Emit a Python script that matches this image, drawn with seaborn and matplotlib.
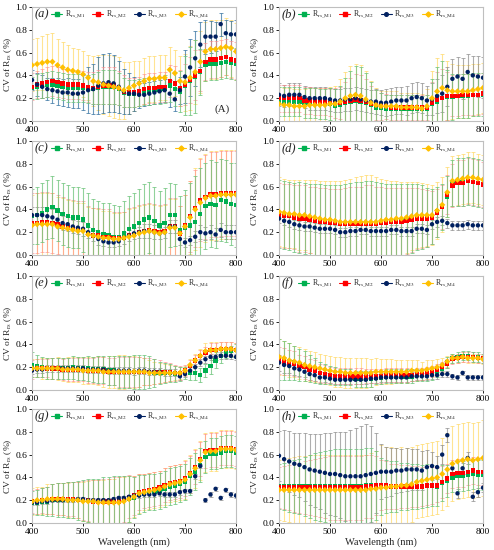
import numpy as np
import pandas as pd
import matplotlib
matplotlib.use("Agg")
import matplotlib.pyplot as plt
from matplotlib.lines import Line2D
import seaborn as sns

wavelength = list(range(400, 801, 10))
series_names = ["M1", "M2", "M3", "M4"]
panel_letters = ["(a)", "(b)", "(c)", "(d)", "(e)", "(f)", "(g)", "(h)"]

# ---------------- panel (a) ----------------
a_m1 = [0.29,0.30,0.31,0.32,0.32,0.31,0.30,0.29,0.29,0.29,0.29,0.28,0.28,0.29,0.30,0.30,0.30,0.28,0.25,0.24,0.24,0.25,0.26,0.26,0.27,0.27,0.28,0.31,0.28,0.26,0.31,0.35,0.39,0.43,0.49,0.50,0.50,0.51,0.52,0.51,0.50]
a_m2 = [0.30,0.32,0.33,0.34,0.35,0.34,0.33,0.32,0.32,0.32,0.31,0.30,0.29,0.30,0.31,0.31,0.31,0.29,0.26,0.25,0.25,0.26,0.28,0.29,0.29,0.30,0.30,0.35,0.33,0.29,0.32,0.36,0.40,0.44,0.52,0.54,0.54,0.55,0.56,0.54,0.53]
a_m3 = [0.36,0.32,0.30,0.28,0.27,0.26,0.25,0.25,0.24,0.24,0.25,0.27,0.28,0.31,0.33,0.34,0.33,0.30,0.26,0.24,0.24,0.23,0.23,0.24,0.25,0.26,0.27,0.24,0.19,0.27,0.39,0.47,0.55,0.67,0.74,0.74,0.74,0.85,0.77,0.76,0.76]
a_m4 = [0.49,0.50,0.51,0.52,0.52,0.49,0.47,0.45,0.44,0.43,0.41,0.38,0.35,0.34,0.32,0.31,0.30,0.29,0.27,0.29,0.31,0.33,0.35,0.37,0.37,0.38,0.38,0.45,0.42,0.35,0.34,0.38,0.43,0.52,0.61,0.63,0.63,0.64,0.65,0.64,0.61]
a_m1_sd = [0.10,0.11,0.11,0.11,0.12,0.12,0.12,0.12,0.12,0.12,0.12,0.12,0.13,0.14,0.15,0.15,0.15,0.14,0.13,0.12,0.12,0.12,0.12,0.12,0.12,0.12,0.12,0.14,0.15,0.18,0.26,0.30,0.32,0.20,0.14,0.14,0.14,0.14,0.14,0.14,0.14]
a_m2_sd = [0.12,0.12,0.13,0.13,0.13,0.13,0.13,0.13,0.13,0.13,0.13,0.13,0.14,0.15,0.16,0.16,0.16,0.15,0.14,0.13,0.13,0.13,0.13,0.13,0.13,0.13,0.13,0.14,0.15,0.16,0.18,0.20,0.22,0.18,0.16,0.16,0.16,0.16,0.16,0.16,0.16]
a_m3_sd = [0.09,0.10,0.10,0.10,0.11,0.12,0.12,0.13,0.13,0.13,0.15,0.20,0.22,0.25,0.26,0.26,0.25,0.23,0.20,0.18,0.15,0.12,0.10,0.10,0.10,0.10,0.10,0.12,0.10,0.12,0.23,0.25,0.24,0.20,0.15,0.14,0.13,0.10,0.12,0.12,0.13]
a_m4_sd = [0.23,0.23,0.24,0.24,0.25,0.23,0.22,0.22,0.20,0.20,0.20,0.20,0.22,0.24,0.26,0.27,0.27,0.27,0.25,0.23,0.22,0.20,0.20,0.20,0.20,0.20,0.20,0.20,0.20,0.22,0.25,0.28,0.28,0.27,0.26,0.26,0.26,0.25,0.25,0.25,0.25]

# ---------------- panel (b) ----------------
b_m1 = [0.17,0.17,0.17,0.17,0.17,0.16,0.16,0.16,0.15,0.15,0.15,0.13,0.14,0.16,0.17,0.18,0.17,0.16,0.14,0.12,0.12,0.11,0.11,0.11,0.11,0.11,0.11,0.11,0.11,0.11,0.15,0.17,0.20,0.21,0.21,0.22,0.22,0.22,0.23,0.23,0.23]
b_m2 = [0.20,0.20,0.20,0.20,0.20,0.18,0.18,0.17,0.17,0.17,0.16,0.16,0.16,0.17,0.18,0.19,0.18,0.17,0.15,0.14,0.13,0.13,0.12,0.12,0.12,0.12,0.12,0.12,0.12,0.12,0.16,0.19,0.20,0.22,0.22,0.22,0.23,0.23,0.23,0.23,0.24]
b_m3 = [0.23,0.22,0.23,0.23,0.23,0.21,0.20,0.20,0.20,0.20,0.19,0.18,0.18,0.19,0.19,0.20,0.19,0.18,0.17,0.17,0.16,0.16,0.17,0.18,0.18,0.18,0.20,0.21,0.20,0.18,0.19,0.22,0.24,0.30,0.37,0.39,0.37,0.43,0.40,0.39,0.38]
b_m4 = [0.15,0.14,0.14,0.13,0.13,0.13,0.14,0.14,0.14,0.14,0.15,0.15,0.17,0.20,0.22,0.23,0.22,0.19,0.16,0.14,0.13,0.13,0.13,0.13,0.12,0.12,0.12,0.12,0.11,0.13,0.20,0.26,0.29,0.27,0.26,0.26,0.26,0.26,0.27,0.28,0.29]
b_m1_sd = [0.13,0.13,0.13,0.13,0.13,0.13,0.13,0.13,0.13,0.13,0.14,0.15,0.17,0.22,0.27,0.30,0.30,0.26,0.20,0.15,0.13,0.12,0.12,0.12,0.12,0.12,0.12,0.12,0.11,0.12,0.22,0.30,0.33,0.24,0.20,0.19,0.19,0.19,0.19,0.19,0.19]
b_m2_sd = [0.12,0.12,0.12,0.12,0.12,0.12,0.12,0.12,0.12,0.12,0.12,0.13,0.14,0.17,0.20,0.22,0.22,0.20,0.16,0.13,0.12,0.11,0.11,0.11,0.11,0.11,0.11,0.11,0.11,0.11,0.18,0.24,0.26,0.21,0.18,0.18,0.18,0.18,0.18,0.18,0.18]
b_m3_sd = [0.10,0.10,0.10,0.10,0.10,0.10,0.10,0.10,0.10,0.10,0.10,0.10,0.10,0.10,0.10,0.10,0.10,0.10,0.10,0.11,0.11,0.12,0.12,0.12,0.12,0.13,0.13,0.13,0.13,0.13,0.14,0.15,0.16,0.17,0.17,0.17,0.18,0.16,0.17,0.18,0.18]
b_m4_sd = [0.15,0.15,0.15,0.15,0.15,0.15,0.15,0.15,0.15,0.15,0.15,0.16,0.20,0.23,0.26,0.27,0.27,0.25,0.19,0.15,0.13,0.13,0.13,0.13,0.13,0.13,0.13,0.13,0.13,0.15,0.24,0.29,0.30,0.26,0.24,0.23,0.23,0.23,0.23,0.22,0.22]

# ---------------- panel (c) ----------------
c_m1 = [0.34,0.35,0.37,0.40,0.42,0.39,0.36,0.34,0.33,0.33,0.31,0.26,0.22,0.20,0.18,0.17,0.16,0.16,0.19,0.23,0.25,0.28,0.31,0.33,0.30,0.26,0.28,0.35,0.35,0.22,0.24,0.26,0.29,0.36,0.43,0.45,0.44,0.48,0.47,0.45,0.44]
c_m2 = [0.28,0.28,0.29,0.29,0.28,0.27,0.25,0.24,0.23,0.22,0.22,0.19,0.17,0.17,0.16,0.16,0.15,0.15,0.15,0.17,0.18,0.20,0.21,0.22,0.21,0.20,0.21,0.25,0.25,0.19,0.26,0.34,0.41,0.48,0.51,0.53,0.53,0.54,0.54,0.54,0.54]
c_m3 = [0.35,0.35,0.35,0.34,0.33,0.31,0.28,0.27,0.25,0.24,0.23,0.20,0.17,0.14,0.12,0.11,0.11,0.12,0.15,0.17,0.19,0.20,0.21,0.21,0.20,0.19,0.20,0.25,0.25,0.14,0.11,0.13,0.16,0.20,0.19,0.20,0.18,0.22,0.20,0.20,0.20]
c_m4 = [0.26,0.27,0.27,0.27,0.27,0.25,0.24,0.23,0.22,0.21,0.21,0.18,0.17,0.16,0.15,0.15,0.14,0.14,0.15,0.16,0.17,0.19,0.20,0.21,0.20,0.19,0.20,0.24,0.24,0.19,0.25,0.33,0.40,0.46,0.50,0.52,0.52,0.53,0.53,0.53,0.53]
c_m1_sd = [0.24,0.25,0.26,0.26,0.27,0.27,0.27,0.27,0.27,0.27,0.28,0.28,0.27,0.27,0.28,0.29,0.28,0.27,0.28,0.29,0.29,0.30,0.31,0.31,0.30,0.30,0.31,0.28,0.27,0.30,0.33,0.37,0.40,0.40,0.38,0.38,0.38,0.36,0.36,0.36,0.37]
c_m2_sd = [0.26,0.26,0.26,0.26,0.26,0.26,0.26,0.25,0.25,0.25,0.25,0.24,0.24,0.24,0.24,0.24,0.23,0.23,0.23,0.24,0.24,0.24,0.24,0.24,0.24,0.24,0.24,0.25,0.25,0.24,0.27,0.31,0.34,0.36,0.37,0.37,0.37,0.37,0.37,0.37,0.37]
c_m3_sd = [0.07,0.07,0.07,0.07,0.07,0.07,0.06,0.06,0.06,0.06,0.06,0.05,0.05,0.05,0.04,0.04,0.04,0.04,0.05,0.05,0.05,0.05,0.06,0.06,0.06,0.05,0.05,0.06,0.06,0.05,0.04,0.04,0.05,0.06,0.06,0.06,0.06,0.06,0.06,0.06,0.06]
c_m4_sd = [0.27,0.27,0.27,0.27,0.27,0.26,0.26,0.25,0.25,0.25,0.25,0.24,0.24,0.24,0.24,0.24,0.23,0.23,0.23,0.24,0.24,0.24,0.24,0.24,0.24,0.24,0.24,0.25,0.25,0.24,0.28,0.32,0.36,0.39,0.39,0.39,0.39,0.39,0.39,0.39,0.39]

# ---------------- panel (d) ----------------
d_m1 = [0.36,0.35,0.34,0.33,0.33,0.32,0.31,0.30,0.30,0.29,0.29,0.29,0.28,0.28,0.28,0.28,0.28,0.28,0.28,0.28,0.29,0.29,0.30,0.30,0.30,0.31,0.32,0.33,0.33,0.33,0.34,0.38,0.42,0.51,0.63,0.64,0.64,0.65,0.64,0.63,0.62]
d_m2 = [0.35,0.34,0.34,0.33,0.32,0.32,0.31,0.30,0.29,0.29,0.28,0.28,0.27,0.27,0.27,0.27,0.27,0.27,0.27,0.27,0.28,0.28,0.29,0.29,0.29,0.30,0.31,0.32,0.32,0.32,0.33,0.37,0.42,0.53,0.61,0.63,0.63,0.65,0.64,0.63,0.62]
d_m3 = [0.32,0.30,0.29,0.27,0.26,0.25,0.25,0.24,0.23,0.23,0.23,0.22,0.20,0.20,0.21,0.21,0.22,0.22,0.21,0.21,0.21,0.21,0.22,0.22,0.21,0.21,0.21,0.23,0.23,0.22,0.27,0.29,0.30,0.28,0.26,0.26,0.26,0.27,0.26,0.26,0.26]
d_m4 = [0.38,0.37,0.36,0.36,0.35,0.35,0.34,0.33,0.32,0.31,0.31,0.30,0.29,0.29,0.29,0.29,0.29,0.29,0.29,0.29,0.30,0.31,0.31,0.32,0.32,0.33,0.34,0.35,0.35,0.35,0.35,0.39,0.44,0.55,0.65,0.66,0.67,0.68,0.68,0.67,0.66]
d_m1_sd = [0.30,0.30,0.30,0.30,0.31,0.31,0.31,0.32,0.32,0.32,0.32,0.32,0.33,0.34,0.35,0.36,0.36,0.37,0.37,0.36,0.34,0.33,0.32,0.32,0.32,0.31,0.30,0.29,0.28,0.26,0.24,0.22,0.20,0.18,0.20,0.21,0.21,0.21,0.21,0.21,0.21]
d_m2_sd = [0.28,0.28,0.28,0.28,0.29,0.29,0.29,0.30,0.30,0.30,0.30,0.30,0.31,0.32,0.33,0.33,0.33,0.34,0.34,0.33,0.32,0.31,0.30,0.30,0.30,0.29,0.28,0.27,0.26,0.25,0.23,0.21,0.19,0.17,0.19,0.20,0.20,0.20,0.20,0.20,0.20]
d_m3_sd = [0.04,0.04,0.04,0.04,0.04,0.04,0.04,0.04,0.04,0.04,0.04,0.04,0.04,0.04,0.04,0.04,0.04,0.04,0.04,0.04,0.04,0.04,0.04,0.04,0.04,0.04,0.04,0.04,0.04,0.04,0.04,0.04,0.04,0.04,0.04,0.04,0.04,0.04,0.04,0.04,0.04]
d_m4_sd = [0.30,0.30,0.30,0.30,0.31,0.31,0.32,0.33,0.33,0.34,0.34,0.35,0.36,0.37,0.38,0.39,0.40,0.41,0.41,0.39,0.37,0.35,0.34,0.33,0.32,0.31,0.30,0.29,0.28,0.27,0.26,0.25,0.24,0.22,0.22,0.22,0.22,0.22,0.22,0.22,0.22]

# ---------------- panel (e) ----------------
e_m1 = [0.22,0.21,0.20,0.19,0.19,0.19,0.19,0.19,0.20,0.19,0.19,0.19,0.18,0.18,0.18,0.17,0.17,0.16,0.16,0.16,0.16,0.16,0.16,0.16,0.15,0.15,0.15,0.15,0.14,0.14,0.15,0.15,0.15,0.13,0.17,0.21,0.26,0.30,0.33,0.34,0.35]
e_m2 = [0.18,0.19,0.19,0.19,0.19,0.19,0.18,0.18,0.18,0.18,0.18,0.17,0.17,0.17,0.17,0.16,0.16,0.16,0.16,0.16,0.16,0.16,0.16,0.16,0.16,0.16,0.16,0.16,0.15,0.15,0.17,0.21,0.26,0.30,0.33,0.35,0.35,0.36,0.36,0.36,0.35]
e_m3 = [0.17,0.18,0.18,0.19,0.19,0.19,0.19,0.19,0.19,0.19,0.19,0.18,0.18,0.18,0.18,0.17,0.17,0.17,0.17,0.17,0.16,0.17,0.17,0.16,0.16,0.16,0.15,0.15,0.15,0.12,0.14,0.17,0.20,0.24,0.27,0.29,0.29,0.30,0.30,0.30,0.29]
e_m4 = [0.19,0.19,0.19,0.19,0.19,0.19,0.18,0.18,0.18,0.18,0.17,0.17,0.17,0.17,0.16,0.16,0.16,0.16,0.16,0.16,0.16,0.16,0.16,0.15,0.15,0.15,0.15,0.15,0.15,0.15,0.17,0.22,0.26,0.30,0.34,0.35,0.35,0.36,0.36,0.36,0.35]
e_m1_sd = [0.11,0.10,0.09,0.09,0.09,0.09,0.09,0.09,0.10,0.10,0.10,0.11,0.11,0.12,0.12,0.13,0.13,0.14,0.14,0.14,0.15,0.15,0.15,0.14,0.12,0.10,0.09,0.08,0.07,0.06,0.05,0.06,0.06,0.06,0.06,0.07,0.07,0.06,0.05,0.05,0.05]
e_m2_sd = [0.08,0.08,0.08,0.08,0.09,0.09,0.09,0.10,0.10,0.10,0.10,0.11,0.11,0.12,0.12,0.12,0.12,0.13,0.13,0.13,0.13,0.13,0.12,0.12,0.11,0.10,0.09,0.08,0.07,0.06,0.05,0.05,0.05,0.05,0.05,0.06,0.06,0.06,0.06,0.06,0.06]
e_m3_sd = [0.03,0.03,0.03,0.03,0.03,0.03,0.03,0.03,0.03,0.03,0.03,0.03,0.03,0.03,0.03,0.03,0.03,0.03,0.03,0.03,0.03,0.03,0.03,0.03,0.03,0.03,0.03,0.03,0.03,0.03,0.03,0.03,0.03,0.03,0.03,0.03,0.03,0.03,0.03,0.03,0.03]
e_m4_sd = [0.08,0.08,0.09,0.09,0.09,0.10,0.10,0.11,0.11,0.11,0.12,0.12,0.12,0.13,0.13,0.14,0.14,0.15,0.15,0.14,0.14,0.13,0.12,0.11,0.10,0.09,0.08,0.07,0.06,0.05,0.04,0.05,0.06,0.06,0.07,0.07,0.07,0.06,0.06,0.06,0.06]

# ---------------- panel (f) ----------------
f_m1 = [0.27,0.26,0.25,0.24,0.22,0.21,0.19,0.17,0.15,0.14,0.13,0.12,0.11,0.11,0.11,0.10,0.10,0.10,0.10,0.11,0.11,0.12,0.12,0.12,0.12,0.12,0.12,0.13,0.13,0.13,0.14,0.16,0.19,0.24,0.28,0.29,0.30,0.30,0.29,0.29,0.28]
f_m2 = [0.26,0.25,0.24,0.23,0.21,0.20,0.18,0.17,0.15,0.14,0.13,0.12,0.12,0.12,0.12,0.12,0.12,0.12,0.12,0.12,0.12,0.13,0.13,0.13,0.13,0.13,0.13,0.14,0.14,0.15,0.16,0.18,0.20,0.23,0.27,0.28,0.29,0.29,0.29,0.28,0.28]
f_m3 = [0.24,0.22,0.21,0.19,0.18,0.16,0.14,0.13,0.11,0.11,0.10,0.09,0.09,0.09,0.09,0.09,0.09,0.09,0.10,0.10,0.11,0.11,0.11,0.11,0.11,0.11,0.12,0.12,0.12,0.12,0.13,0.13,0.14,0.14,0.12,0.11,0.15,0.11,0.11,0.11,0.11]
f_m4 = [0.29,0.28,0.26,0.25,0.24,0.22,0.21,0.20,0.19,0.18,0.17,0.16,0.16,0.15,0.15,0.15,0.15,0.15,0.15,0.16,0.16,0.16,0.16,0.16,0.16,0.16,0.17,0.17,0.17,0.18,0.19,0.20,0.22,0.25,0.28,0.28,0.29,0.28,0.28,0.28,0.27]
f_m1_sd = [0.18,0.17,0.16,0.15,0.14,0.13,0.12,0.11,0.10,0.09,0.08,0.08,0.07,0.07,0.07,0.07,0.07,0.07,0.07,0.06,0.06,0.06,0.06,0.06,0.06,0.06,0.06,0.05,0.05,0.05,0.05,0.05,0.05,0.05,0.04,0.04,0.04,0.04,0.04,0.04,0.04]
f_m2_sd = [0.12,0.12,0.11,0.11,0.10,0.10,0.09,0.09,0.08,0.08,0.07,0.07,0.07,0.07,0.07,0.07,0.07,0.06,0.06,0.06,0.06,0.06,0.06,0.06,0.06,0.06,0.05,0.05,0.05,0.05,0.05,0.05,0.05,0.04,0.04,0.04,0.04,0.04,0.04,0.04,0.04]
f_m3_sd = [0.07,0.07,0.06,0.06,0.06,0.05,0.05,0.05,0.05,0.04,0.04,0.04,0.04,0.04,0.04,0.04,0.04,0.04,0.04,0.04,0.04,0.04,0.04,0.04,0.04,0.04,0.04,0.03,0.03,0.03,0.03,0.03,0.03,0.03,0.02,0.02,0.02,0.02,0.02,0.02,0.02]
f_m4_sd = [0.16,0.15,0.15,0.14,0.14,0.14,0.13,0.13,0.13,0.13,0.13,0.13,0.13,0.13,0.13,0.13,0.13,0.13,0.12,0.12,0.11,0.11,0.11,0.10,0.10,0.10,0.09,0.09,0.08,0.08,0.07,0.07,0.06,0.05,0.04,0.04,0.04,0.04,0.04,0.04,0.04]

# ---------------- panel (g) ----------------
g_m1 = [0.18,0.18,0.19,0.19,0.20,0.20,0.20,0.20,0.20,0.20,0.20,0.20,0.19,0.19,0.19,0.19,0.19,0.19,0.20,0.21,0.22,0.25,0.26,0.27,0.27,0.28,0.30,0.32,0.33,0.34,0.36,0.41,0.45,0.51,0.58,0.61,0.61,0.62,0.63,0.63,0.62]
g_m2 = [0.19,0.19,0.20,0.20,0.21,0.21,0.21,0.21,0.21,0.20,0.20,0.20,0.19,0.19,0.19,0.19,0.19,0.19,0.21,0.23,0.24,0.27,0.28,0.29,0.30,0.31,0.33,0.35,0.36,0.37,0.39,0.44,0.49,0.56,0.63,0.64,0.64,0.66,0.66,0.66,0.65]
g_m3 = [0.18,0.18,0.19,0.19,0.20,0.20,0.20,0.20,0.20,0.21,0.21,0.20,0.20,0.20,0.20,0.20,0.21,0.22,0.22,0.23,0.24,0.24,0.25,0.25,0.25,0.26,0.25,0.25,0.25,0.27,0.28,0.28,0.41,0.50,0.20,0.25,0.30,0.22,0.29,0.25,0.24]
g_m4 = [0.19,0.20,0.20,0.21,0.21,0.21,0.21,0.20,0.20,0.20,0.19,0.19,0.19,0.18,0.18,0.18,0.18,0.18,0.19,0.21,0.23,0.26,0.27,0.28,0.29,0.30,0.32,0.34,0.35,0.36,0.38,0.43,0.48,0.55,0.62,0.63,0.63,0.65,0.65,0.65,0.64]
g_m1_sd = [0.10,0.11,0.12,0.13,0.14,0.15,0.15,0.16,0.16,0.17,0.18,0.19,0.20,0.20,0.21,0.21,0.22,0.22,0.21,0.20,0.18,0.17,0.16,0.16,0.16,0.16,0.16,0.16,0.16,0.16,0.16,0.16,0.16,0.15,0.14,0.14,0.14,0.14,0.14,0.14,0.14]
g_m2_sd = [0.10,0.11,0.11,0.12,0.13,0.14,0.14,0.15,0.15,0.16,0.17,0.18,0.19,0.19,0.20,0.20,0.21,0.21,0.20,0.19,0.17,0.16,0.15,0.15,0.15,0.15,0.15,0.15,0.15,0.15,0.15,0.15,0.15,0.15,0.15,0.15,0.15,0.15,0.15,0.15,0.15]
g_m3_sd = [0.02,0.02,0.02,0.02,0.02,0.02,0.02,0.02,0.02,0.02,0.02,0.02,0.02,0.02,0.02,0.02,0.02,0.02,0.02,0.02,0.02,0.02,0.02,0.02,0.02,0.02,0.02,0.02,0.02,0.02,0.02,0.02,0.02,0.02,0.02,0.02,0.02,0.02,0.02,0.02,0.02]
g_m4_sd = [0.12,0.12,0.12,0.13,0.13,0.14,0.14,0.15,0.16,0.16,0.17,0.18,0.19,0.20,0.20,0.21,0.21,0.22,0.21,0.20,0.18,0.17,0.16,0.16,0.16,0.16,0.16,0.16,0.16,0.16,0.17,0.17,0.17,0.17,0.17,0.17,0.17,0.17,0.17,0.17,0.17]

# ---------------- panel (h) ----------------
h_m1 = [0.32,0.32,0.32,0.32,0.32,0.32,0.32,0.32,0.32,0.32,0.32,0.32,0.32,0.32,0.32,0.32,0.32,0.33,0.33,0.33,0.32,0.32,0.32,0.32,0.32,0.32,0.32,0.32,0.32,0.33,0.33,0.32,0.35,0.37,0.40,0.41,0.41,0.42,0.43,0.42,0.42]
h_m2 = [0.31,0.31,0.31,0.31,0.31,0.31,0.31,0.31,0.31,0.31,0.31,0.31,0.31,0.31,0.31,0.31,0.31,0.32,0.32,0.33,0.33,0.33,0.32,0.32,0.32,0.32,0.32,0.32,0.32,0.33,0.33,0.33,0.36,0.39,0.43,0.44,0.44,0.45,0.46,0.45,0.45]
h_m3 = [0.59,0.56,0.54,0.52,0.51,0.49,0.47,0.46,0.45,0.44,0.43,0.43,0.42,0.41,0.41,0.41,0.41,0.42,0.43,0.44,0.45,0.45,0.45,0.46,0.46,0.47,0.47,0.47,0.46,0.49,0.50,0.49,0.60,0.77,0.48,0.26,0.48,0.57,0.23,0.27,0.31]
h_m4 = [0.29,0.29,0.29,0.29,0.29,0.29,0.29,0.29,0.29,0.29,0.29,0.29,0.29,0.29,0.29,0.29,0.29,0.29,0.30,0.30,0.31,0.31,0.32,0.32,0.33,0.33,0.34,0.36,0.37,0.38,0.39,0.40,0.43,0.47,0.52,0.54,0.55,0.56,0.55,0.56,0.57]
h_m1_sd = [0.20,0.21,0.22,0.23,0.24,0.26,0.28,0.29,0.30,0.31,0.32,0.33,0.33,0.33,0.33,0.33,0.33,0.33,0.33,0.30,0.25,0.23,0.22,0.22,0.21,0.21,0.20,0.20,0.19,0.19,0.18,0.17,0.16,0.14,0.13,0.13,0.13,0.13,0.13,0.13,0.13]
h_m2_sd = [0.18,0.19,0.20,0.21,0.22,0.23,0.24,0.25,0.26,0.27,0.28,0.28,0.28,0.28,0.28,0.28,0.28,0.28,0.28,0.26,0.22,0.21,0.20,0.20,0.19,0.19,0.18,0.18,0.17,0.17,0.16,0.15,0.14,0.13,0.12,0.12,0.12,0.12,0.12,0.12,0.12]
h_m3_sd = [0.22,0.26,0.27,0.27,0.28,0.30,0.31,0.32,0.33,0.35,0.36,0.37,0.38,0.39,0.41,0.42,0.44,0.45,0.42,0.35,0.24,0.22,0.21,0.20,0.19,0.19,0.18,0.18,0.17,0.15,0.12,0.10,0.08,0.06,0.05,0.04,0.05,0.05,0.04,0.04,0.04]
h_m4_sd = [0.26,0.27,0.28,0.29,0.30,0.30,0.31,0.31,0.31,0.31,0.31,0.31,0.31,0.31,0.31,0.31,0.31,0.31,0.31,0.33,0.37,0.36,0.35,0.34,0.34,0.33,0.33,0.32,0.32,0.32,0.32,0.32,0.32,0.32,0.33,0.33,0.33,0.33,0.33,0.33,0.33]

# ---------------- styling ----------------
sns.set_theme(style="ticks")
plt.rcParams["font.family"] = ["Liberation Serif", "DejaVu Serif"]
plt.rcParams["mathtext.fontset"] = "stix"

marker_colors = {"M1": "#00b050", "M2": "#ff0000", "M3": "#002060", "M4": "#ffc000"}
marker_shapes = {"M1": "s", "M2": "s", "M3": "o", "M4": "D"}
err_colors = {"M1": "#6cc47a", "M2": "#ff8a8a", "M3": "#8c8c8c", "M4": "#ffd966"}
err_alpha = {"M1": 0.75, "M2": 0.6, "M3": 0.7, "M4": 0.7}
labels = {s: r"R$_{\mathrm{rs\_" + s + r"}}$" for s in series_names}

panel_means = [
    (a_m1, a_m2, a_m3, a_m4), (b_m1, b_m2, b_m3, b_m4),
    (c_m1, c_m2, c_m3, c_m4), (d_m1, d_m2, d_m3, d_m4),
    (e_m1, e_m2, e_m3, e_m4), (f_m1, f_m2, f_m3, f_m4),
    (g_m1, g_m2, g_m3, g_m4), (h_m1, h_m2, h_m3, h_m4),
]
panel_sds = [
    (a_m1_sd, a_m2_sd, a_m3_sd, a_m4_sd), (b_m1_sd, b_m2_sd, b_m3_sd, b_m4_sd),
    (c_m1_sd, c_m2_sd, c_m3_sd, c_m4_sd), (d_m1_sd, d_m2_sd, d_m3_sd, d_m4_sd),
    (e_m1_sd, e_m2_sd, e_m3_sd, e_m4_sd), (f_m1_sd, f_m2_sd, f_m3_sd, f_m4_sd),
    (g_m1_sd, g_m2_sd, g_m3_sd, g_m4_sd), (h_m1_sd, h_m2_sd, h_m3_sd, h_m4_sd),
]

W, H = 494, 550
fig = plt.figure(figsize=(W / 100, H / 100), dpi=100)
col_left = [32, 279]
ax_w = 204
row_top = [7, 141, 276, 409]
ax_h = 114

for p in range(8):
    r, c = divmod(p, 2)
    left = col_left[c] / W
    bottom = 1 - (row_top[r] + ax_h) / H
    ax = fig.add_axes([left, bottom, ax_w / W, ax_h / H])

    rows = []
    for s, m, sd in zip(series_names, panel_means[p], panel_sds[p]):
        for wl, mv, sv in zip(wavelength, m, sd):
            rows.append({"wavelength": wl, "cv": mv, "sd": sv, "series": s})
    df = pd.DataFrame(rows)

    # error bars: M4 first, M1 last
    for s in ["M4", "M3", "M2", "M1"]:
        sub = df[df["series"] == s]
        ecol = err_colors[s]
        if s == "M3" and p == 0:
            ecol = "#2e6e9e"
        ax.errorbar(sub["wavelength"], sub["cv"], yerr=sub["sd"], fmt="none",
                    ecolor=ecol, elinewidth=0.8, capsize=1.3, capthick=0.7,
                    alpha=err_alpha[s], zorder=2)

    sns.scatterplot(data=df, x="wavelength", y="cv", hue="series", style="series",
                    palette=marker_colors, markers=marker_shapes,
                    hue_order=series_names, style_order=series_names,
                    s=10, linewidth=0, ax=ax, legend=False, zorder=4)

    ax.set_xlim(400, 800)
    ax.set_ylim(0, 1.0)
    ax.set_xticks([400, 500, 600, 700, 800])
    ax.set_yticks([0.0, 0.2, 0.4, 0.6, 0.8, 1.0])
    ax.set_yticklabels([f"{v:.1f}" for v in [0.0, 0.2, 0.4, 0.6, 0.8, 1.0]])
    ax.tick_params(labelsize=6.8, length=2, width=0.6, pad=1.5, colors="#000000")
    for sp in ax.spines.values():
        sp.set_color("#bfbfbf")
        sp.set_linewidth(0.8)
    ax.set_ylabel(r"CV of R$_{\mathrm{rs}}$ (%)", fontsize=6.8, labelpad=1)
    if r == 3:
        ax.set_xlabel("Wavelength (nm)", fontsize=7.5, labelpad=1)
    else:
        ax.set_xlabel("")

    ax.text(0.015, 0.935, panel_letters[p], transform=ax.transAxes, fontsize=9,
            style="italic", va="center", ha="left")
    if p == 0:
        ax.text(0.97, 0.10, "(A)", transform=ax.transAxes, fontsize=8,
                va="center", ha="right")

    handles = [Line2D([0], [0], color=marker_colors[s], marker=marker_shapes[s],
                      markersize=2.6, linewidth=0.8) for s in series_names]
    ax.legend(handles, [labels[s] for s in series_names], loc="center left",
              bbox_to_anchor=(0.095, 0.935), ncol=4, frameon=False, fontsize=5.6,
              handlelength=1.4, handletextpad=0.3, columnspacing=0.9,
              borderaxespad=0, borderpad=0)

fig.savefig("out.png", dpi=100)
